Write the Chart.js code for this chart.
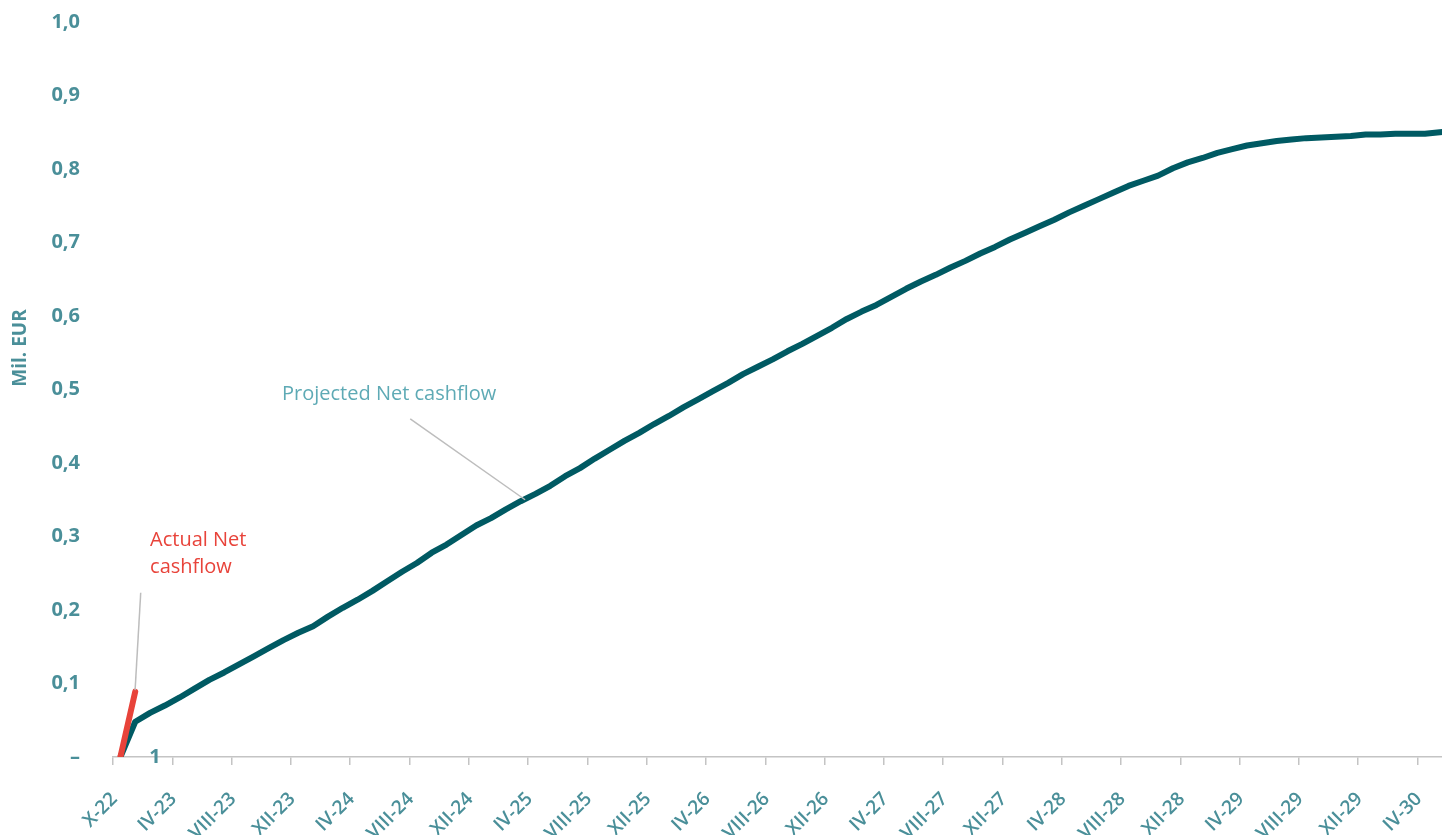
<!DOCTYPE html>
<html>
<head>
<meta charset="utf-8">
<title>Net cashflow</title>
<script src="https://cdn.jsdelivr.net/npm/chart.js@4.4.1/dist/chart.umd.min.js"></script>
<style>
  html, body { margin: 0; padding: 0; background: #fff; overflow: hidden; }
  #wrap { width: 1442px; height: 835px; overflow: hidden; position: relative; }
  #cashChart { display: block; }
</style>
</head>
<body>
<!-- the chart runs a little past the right edge, as in the cropped original -->
<div id="wrap"><canvas id="cashChart" width="1462" height="835"></canvas></div>
<script>
// month labels, one per category (X-22 first, then monthly from I-23)
const categories = [
    'X-22',
    'I-23', 'II-23', 'III-23', 'IV-23', 'V-23', 'VI-23', 'VII-23', 'VIII-23', 'IX-23', 'X-23', 'XI-23', 'XII-23',
    'I-24', 'II-24', 'III-24', 'IV-24', 'V-24', 'VI-24', 'VII-24', 'VIII-24', 'IX-24', 'X-24', 'XI-24', 'XII-24',
    'I-25', 'II-25', 'III-25', 'IV-25', 'V-25', 'VI-25', 'VII-25', 'VIII-25', 'IX-25', 'X-25', 'XI-25', 'XII-25',
    'I-26', 'II-26', 'III-26', 'IV-26', 'V-26', 'VI-26', 'VII-26', 'VIII-26', 'IX-26', 'X-26', 'XI-26', 'XII-26',
    'I-27', 'II-27', 'III-27', 'IV-27', 'V-27', 'VI-27', 'VII-27', 'VIII-27', 'IX-27', 'X-27', 'XI-27', 'XII-27',
    'I-28', 'II-28', 'III-28', 'IV-28', 'V-28', 'VI-28', 'VII-28', 'VIII-28', 'IX-28', 'X-28', 'XI-28', 'XII-28',
    'I-29', 'II-29', 'III-29', 'IV-29', 'V-29', 'VI-29', 'VII-29', 'VIII-29', 'IX-29', 'X-29', 'XI-29', 'XII-29',
    'I-30', 'II-30', 'III-30', 'IV-30', 'V-30', 'VI-30'
];

// cumulative net cashflow, mil. EUR
const actualNet = [0, 0.089];

const projectedNet = [
    0.000, 0.048, 0.060, 0.070, 0.081, 0.093, 0.105, 0.115, 0.126, 0.137,
    0.148, 0.159, 0.169, 0.178, 0.191, 0.203, 0.214, 0.226, 0.239, 0.252,
    0.264, 0.278, 0.289, 0.302, 0.315, 0.325, 0.337, 0.348, 0.358, 0.369,
    0.382, 0.393, 0.406, 0.418, 0.430, 0.441, 0.453, 0.464, 0.476, 0.487,
    0.498, 0.509, 0.521, 0.531, 0.541, 0.552, 0.562, 0.573, 0.584, 0.596,
    0.606, 0.615, 0.626, 0.637, 0.647, 0.656, 0.666, 0.675, 0.685, 0.694,
    0.704, 0.713, 0.722, 0.731, 0.741, 0.750, 0.759, 0.768, 0.777, 0.784,
    0.791, 0.801, 0.809, 0.815, 0.822, 0.827, 0.832, 0.835, 0.838, 0.840,
    0.842, 0.843, 0.844, 0.845, 0.847, 0.847, 0.848, 0.848, 0.848, 0.850,
    0.852
];

const yTicks = [0, 0.1, 0.2, 0.3, 0.4, 0.5, 0.6, 0.7, 0.8, 0.9, 1.0];

const TEAL_TEXT = '#4a8f99';
const LIGHT_TEAL = '#5eaab5';
const RED = '#e8433a';
const GREY = '#c4c4c4';

Chart.defaults.font.family = "'Open Sans', sans-serif";

// callouts and the odd "1" label, placed in data coordinates
const annotate = {
    id: 'annotate',
    afterDatasetsDraw(chart) {
        const { ctx, scales: { x, y } } = chart;
        const pt = (i, v) => [x.getPixelForValue(i), y.getPixelForValue(v)];

        ctx.save();
        ctx.strokeStyle = '#bdbdbd';
        ctx.lineWidth = 1.5;

        let a = pt(19.55, 0.460), b = pt(27.3, 0.350);
        ctx.beginPath(); ctx.moveTo(a[0], a[1]); ctx.lineTo(b[0], b[1]); ctx.stroke();
        a = pt(1.37, 0.2235); b = pt(0.99, 0.091);
        ctx.beginPath(); ctx.moveTo(a[0], a[1]); ctx.lineTo(b[0], b[1]); ctx.stroke();

        ctx.textBaseline = 'middle';
        ctx.textAlign = 'left';
        ctx.font = "20px 'Open Sans'";
        ctx.fillStyle = LIGHT_TEAL;
        let p = pt(10.9, 0.494);
        ctx.fillText('Projected Net cashflow', p[0], p[1]);

        ctx.fillStyle = RED;
        p = pt(2.0, 0.295);
        ctx.fillText('Actual Net', p[0], p[1]);
        p = pt(2.0, 0.2585);
        ctx.fillText('cashflow', p[0], p[1]);

        ctx.textAlign = 'center';
        ctx.font = "bold 20px 'Open Sans'";
        ctx.fillStyle = TEAL_TEXT;
        p = pt(2.33, 0);
        ctx.fillText('1', p[0], p[1]);

        // axis title, sits a bit above the middle of the axis
        ctx.translate(21, 348);
        ctx.rotate(-Math.PI / 2);
        ctx.font = "bold 19px 'Open Sans'";
        ctx.fillText('Mil. EUR', 0, 0);
        ctx.restore();
    }
};

const ctx = document.getElementById('cashChart').getContext('2d');
const cashChart = new Chart(ctx, {
    type: 'line',
    data: {
        labels: categories,
        datasets: [{
            label: 'Actual Net cashflow',
            data: actualNet,
            borderColor: RED,
            borderWidth: 6,
            borderCapStyle: 'round',
            pointRadius: 0,
            tension: 0
        }, {
            label: 'Projected Net cashflow',
            data: projectedNet,
            borderColor: '#005a63',
            borderWidth: 6,
            borderJoinStyle: 'round',
            pointRadius: 0,
            tension: 0
        }]
    },
    options: {
        responsive: false,
        animation: false,
        layout: { padding: { top: 22, right: 0, bottom: 0, left: 0 } },
        plugins: {
            legend: { display: false },
            tooltip: { enabled: false }
        },
        scales: {
            x: {
                offset: true,
                grid: {
                    offset: true,
                    drawOnChartArea: false,
                    tickLength: 8,
                    lineWidth: 1.5,
                    color: c => (c.index % 4 === 0 && c.index <= 88 ? GREY : 'rgba(0,0,0,0)')
                },
                border: { color: GREY, width: 1.5 },
                ticks: {
                    autoSkip: false,
                    minRotation: 45,
                    maxRotation: 45,
                    padding: 23,
                    labelOffset: -6,
                    color: TEAL_TEXT,
                    font: { size: 19, weight: '600' },
                    callback: (v, i) => (i % 4 === 0 && i <= 88 ? categories[i] : '')
                },
                afterFit: s => {
                    s.height = 78;
                    s.paddingLeft = 0;
                    s.paddingRight = 0;
                }
            },
            y: {
                min: 0,
                max: 1,
                afterBuildTicks: s => { s.ticks = yTicks.map(v => ({ value: v })); },
                grid: { display: false, drawTicks: false },
                border: { display: false },
                ticks: {
                    padding: 33,
                    color: TEAL_TEXT,
                    font: { size: 20, weight: 'bold' },
                    callback: v => (v === 0 ? '–' : v.toFixed(1).replace('.', ','))
                },
                afterFit: s => {
                    s.width = 113;
                    s.paddingTop = 0;
                    s.paddingBottom = 0;
                }
            }
        }
    },
    plugins: [annotate]
});
</script>
</body>
</html>
